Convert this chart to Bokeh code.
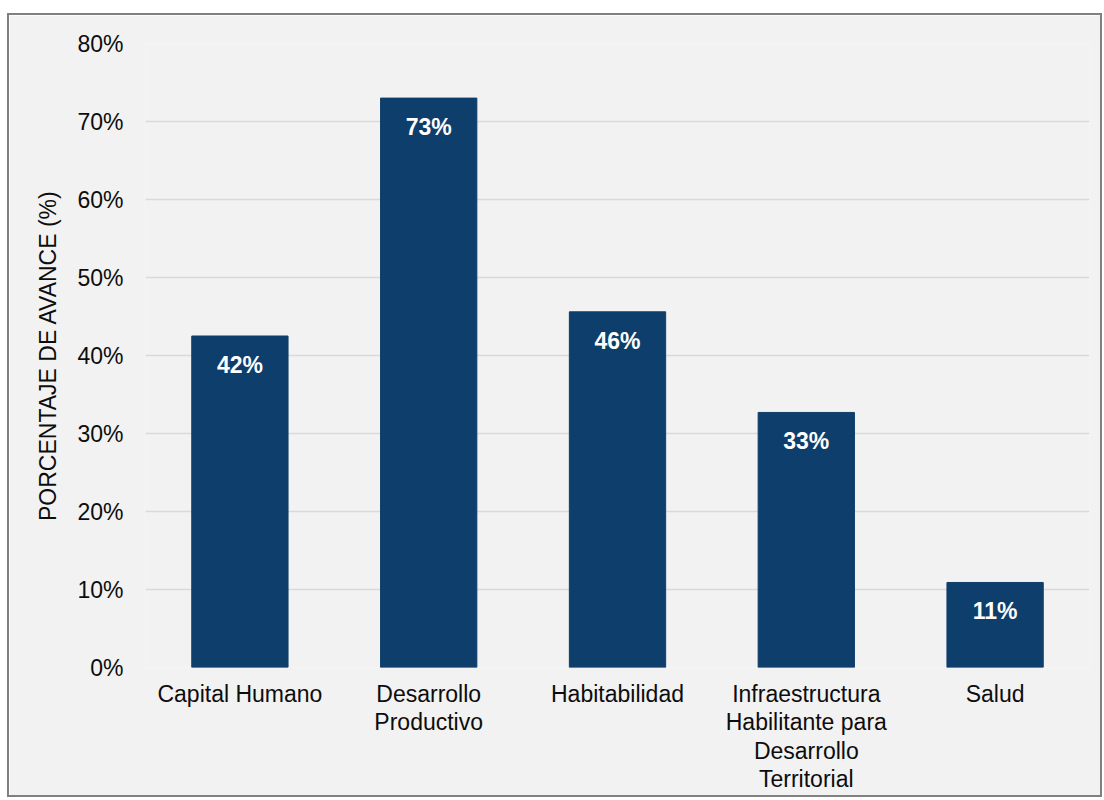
from bokeh.plotting import figure
from bokeh.models import ColumnDataSource, NumeralTickFormatter, FixedTicker
from bokeh.core.properties import value
from bokeh.embed import file_html
from bokeh.resources import INLINE

categories = ["Capital Humano", "Desarrollo\nProductivo", "Habitabilidad",
              "Infraestructura\nHabilitante para\nDesarrollo\nTerritorial", "Salud"]
values = [0.425, 0.730, 0.456, 0.327, 0.109]
labels = ["42%", "73%", "46%", "33%", "11%"]
y_ticks = [0.0, 0.1, 0.2, 0.3, 0.4, 0.5, 0.6, 0.7, 0.8]

FONT = "Liberation Sans"
BG = "#f2f2f2"
BAR = "#0e3e6b"
TXT = "#0d0d0d"

src = ColumnDataSource(data=dict(cat=categories, val=values, lab=labels))

p = figure(x_range=categories, y_range=(0, 0.8), frame_width=944, frame_height=624,
           output_backend="svg", toolbar_location=None,
           min_border_left=136, min_border_right=11, min_border_top=28, min_border_bottom=0)
p.styles = {"margin-top": "13px", "margin-left": "7px", "border": "2px solid #808080"}

p.background_fill_color = BG
p.border_fill_color = BG
p.outline_line_color = None

p.vbar(x="cat", top="val", width=0.51, source=src, fill_color=BAR, line_color=BAR)
p.text(x="cat", y="val", text="lab", source=src, text_align="center", text_baseline="middle",
       y_offset=29, text_color="white", text_font_size="23px", text_font_style="bold",
       text_font=value(FONT))

p.yaxis.ticker = FixedTicker(ticks=y_ticks)
p.yaxis.formatter = NumeralTickFormatter(format="0%")
p.yaxis.axis_label = "PORCENTAJE DE AVANCE (%)"
p.yaxis.axis_label_text_font = FONT
p.yaxis.axis_label_text_font_size = "23px"
p.yaxis.axis_label_text_font_style = "normal"
p.yaxis.axis_label_text_color = TXT
p.yaxis.axis_label_standoff = 13

for ax in (p.xaxis, p.yaxis):
    ax.axis_line_color = None
    ax.major_tick_line_color = None
    ax.minor_tick_line_color = None
    ax.major_tick_out = 0
    ax.major_tick_in = 0
    ax.minor_tick_out = 0
    ax.minor_tick_in = 0
    ax.major_label_text_font = FONT
    ax.major_label_text_font_size = "23px"
    ax.major_label_text_color = TXT

p.yaxis.major_label_standoff = 22
p.xaxis.major_label_standoff = 13
p.xaxis.major_label_text_line_height = 1.1

p.xgrid.grid_line_color = None
p.ygrid.grid_line_color = "#d9d9d9"
p.ygrid.grid_line_width = 1.5

open("out.html", "w").write(file_html(p, INLINE))
